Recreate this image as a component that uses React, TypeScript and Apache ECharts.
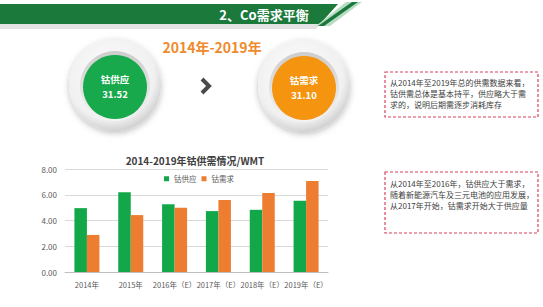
import React, { useEffect, useRef } from "react";
import * as echarts from "echarts";

const categories = ["2014年", "2015年", "2016年（E）", "2017年（E）", "2018年（E）", "2019年（E）"];
const supply = [4.96, 6.2, 5.26, 4.73, 4.83, 5.54];
const demand = [2.88, 4.42, 5.0, 5.6, 6.14, 7.06];
const seriesNames = ["钴供应", "钴需求"];
const totals = ["31.52", "31.10"];
const box1Lines = [
  "从2014年至2019年总的供需数据来看，",
  "钴供需总体是基本持平，供应略大于需",
  "求的，说明后期需逐步消耗库存",
];
const box2Lines = [
  "从2014年至2016年，钴供应大于需求，",
  "随着新能源汽车及三元电池的应用发展，",
  "从2017年开始，钴需求开始大于供应量",
];

const FONT = "'Noto Sans CJK SC', 'Open Sans', sans-serif";
const GREEN = "#12a84a";
const ORANGE = "#ed7d31";

function disk(cx: number, cy: number, color: string, label: string, value: string) {
  return [
    {
      type: "circle",
      shape: { cx, cy, r: 46 },
      style: {
        fill: new echarts.graphic.RadialGradient(0.45, 0.4, 0.6, [
          { offset: 0, color: "#ffffff" },
          { offset: 0.8, color: "#f0f0f0" },
          { offset: 1, color: "#d2d2d2" },
        ]),
        shadowBlur: 6,
        shadowOffsetY: 2,
        shadowColor: "rgba(0,0,0,0.25)",
      },
    },
    {
      type: "circle",
      shape: { cx, cy: cy + 1, r: 35 },
      style: {
        fill: new echarts.graphic.LinearGradient(0, 0, 0, 1, [
          { offset: 0, color: "#cdcdcd" },
          { offset: 1, color: "#f4f4f4" },
        ]),
      },
    },
    {
      type: "circle",
      shape: { cx, cy: cy + 2, r: 32 },
      style: { fill: color },
    },
    {
      type: "text",
      x: cx,
      y: cy - 6,
      style: {
        text: label,
        fill: "#ffffff",
        font: `bold 9.5px ${FONT}`,
        align: "center",
        verticalAlign: "middle",
      },
    },
    {
      type: "text",
      x: cx,
      y: cy + 9,
      style: {
        text: value,
        fill: "#ffffff",
        font: `bold 9.5px ${FONT}`,
        align: "center",
        verticalAlign: "middle",
      },
    },
  ];
}

function box(x: number, y: number, w: number, h: number, lines: string[], ty: number) {
  return [
    {
      type: "rect",
      shape: { x, y, width: w, height: h },
      style: { fill: "#ffffff", stroke: "#d9435c", lineWidth: 1.2, lineDash: [3, 2] },
    },
    ...lines.map((t, i) => ({
      type: "text",
      x: x + 5,
      y: ty + i * 11,
      style: {
        text: t,
        fill: "#404040",
        font: `8px ${FONT}`,
        align: "left",
        verticalAlign: "middle",
      },
    })),
  ];
}

export default function App() {
  const ref = useRef<HTMLDivElement>(null);
  useEffect(() => {
    if (!ref.current) return;
    const chart = echarts.init(ref.current, null, { renderer: "svg" });
    chart.setOption({
      animation: false,
      backgroundColor: "#ffffff",
      title: {
        text: "2014-2019年钴供需情况/WMT",
        left: 190,
        top: 150,
        textAlign: "center",
        textStyle: { fontSize: 10, fontWeight: "bold", color: "#404040", fontFamily: FONT },
      },
      legend: {
        data: seriesNames,
        left: 159,
        top: 170,
        itemWidth: 5,
        itemHeight: 5,
        itemGap: 5,
        icon: "rect",
        textStyle: { fontSize: 7.5, color: "#595959", fontFamily: FONT },
      },
      grid: { left: 65, right: 215, top: 169, bottom: 35, containLabel: false },
      xAxis: {
        type: "category",
        data: categories,
        axisLine: { lineStyle: { color: "#bfbfbf" } },
        axisTick: { show: false },
        axisLabel: { fontSize: 7.5, color: "#595959", fontFamily: FONT, margin: 9, interval: 0 },
      },
      yAxis: {
        type: "value",
        min: 0,
        max: 8,
        interval: 2,
        axisLine: { show: false },
        axisTick: { show: false },
        splitLine: { lineStyle: { color: "#d9d9d9" } },
        axisLabel: {
          fontSize: 8,
          color: "#595959",
          fontFamily: FONT,
          margin: 8,
          formatter: (v: number) => v.toFixed(2),
        },
      },
      series: [
        {
          name: seriesNames[0],
          type: "bar",
          data: supply,
          barWidth: 12.5,
          barGap: "0%",
          itemStyle: { color: GREEN },
        },
        {
          name: seriesNames[1],
          type: "bar",
          data: demand,
          barWidth: 12.5,
          barGap: "0%",
          itemStyle: { color: ORANGE },
        },
      ],
      graphic: [
        {
          type: "polygon",
          shape: { points: [[0, 24], [320, 24], [316, 29], [0, 29]] },
          style: { fill: "#e3e3e3" },
        },
        {
          type: "polygon",
          shape: { points: [[0, 4], [338, 4], [320, 24], [0, 24]] },
          style: { fill: "#1b7a3b" },
        },
        {
          type: "polygon",
          shape: { points: [[346, 2], [362, 2], [330, 26], [316, 26]] },
          style: { fill: "#b9dcc4" },
        },
        {
          type: "polygon",
          shape: { points: [[352, 2], [358, 2], [324, 26], [318, 26]] },
          style: { fill: "#1b7a3b" },
        },
        {
          type: "text",
          x: 264,
          y: 14,
          style: {
            text: "2、Co需求平衡",
            fill: "#ffffff",
            font: `bold 13px ${FONT}`,
            align: "center",
            verticalAlign: "middle",
          },
        },
        {
          type: "text",
          x: 212,
          y: 47,
          style: {
            text: "2014年-2019年",
            fill: "#f08a2c",
            font: `bold 14px ${FONT}`,
            align: "center",
            verticalAlign: "middle",
          },
        },
        ...disk(115, 85, "#17a94b", seriesNames[0], totals[0]),
        ...disk(304, 86, "#f5940f", seriesNames[1], totals[1]),
        {
          type: "polyline",
          shape: { points: [[202, 79], [209, 86], [202, 93]] },
          style: { stroke: "#4a4a4a", lineWidth: 4, fill: "none" },
        },
        ...box(385, 72, 153, 45, box1Lines, 82),
        ...box(385, 172, 153, 61, box2Lines, 183),
      ],
    });
    return () => chart.dispose();
  }, []);
  return (
    <div
      ref={ref}
      style={{ position: "absolute", left: 0, top: 0, width: 543, height: 307 }}
    />
  );
}
